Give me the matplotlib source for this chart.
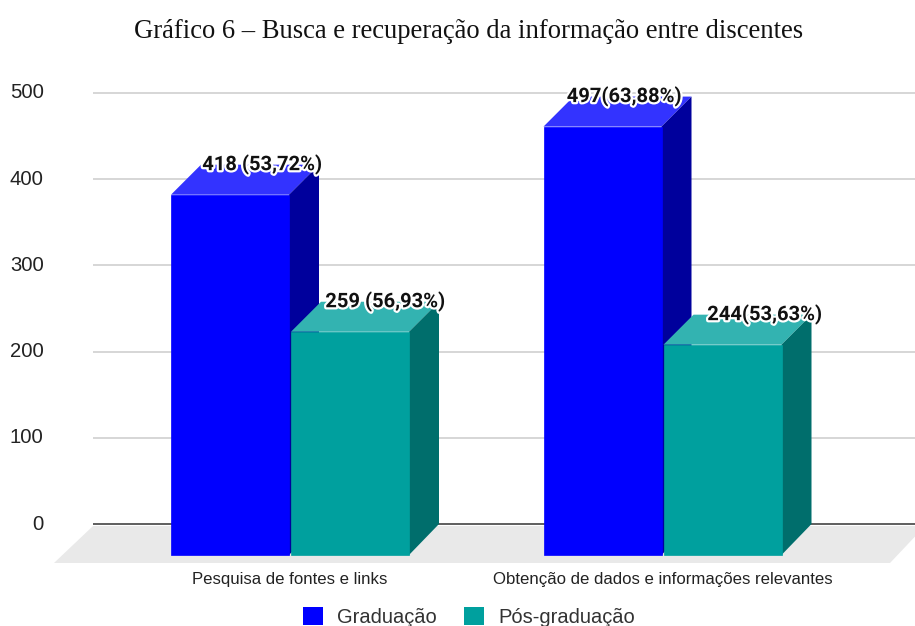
#!/usr/bin/env python3
import matplotlib
matplotlib.use("Agg")
import matplotlib.pyplot as plt
import matplotlib.patheffects as pe
from matplotlib.patches import Patch, Polygon

categories = ["Pesquisa de fontes e links", "Obtenção de dados e informações relevantes"]
series_names = ["Graduação", "Pós-graduação"]
graduacao = [418, 497]
pos_graduacao = [259, 244]
graduacao_labels = ["418 (53,72%)", "497(63,88%)"]
pos_labels = ["259 (56,93%)", "244(53,63%)"]
yticks = [0, 100, 200, 300, 400, 500]

W, H = 915, 626
AX_L, AX_R, AX_T, AX_B = 93, 915, 93, 563
Y0_PX = 524
PX_PER_VAL = (Y0_PX - AX_T) / 500
PX_PER_CAT = 372.5
CAT0_PX = 290

def dx(px): return px / PX_PER_CAT
def dy(px): return px / PX_PER_VAL

DEPTH = 30
COLORS = {
    0: dict(front="#0000ff", top="#3333ff", side="#00009c"),
    1: dict(front="#00a09e", top="#33b3b1", side="#006e6c"),
}

fig = plt.figure(figsize=(W / 100, H / 100), dpi=100)
ax = fig.add_axes([AX_L / W, 1 - AX_B / H, (AX_R - AX_L) / W, (AX_B - AX_T) / H])
ax.set_xlim(dx(AX_L - CAT0_PX), dx(AX_R - CAT0_PX))
ax.set_ylim(-dy(AX_B - Y0_PX), 500)
for sp in ax.spines.values():
    sp.set_visible(False)

x0, x1 = ax.get_xlim()
y0 = ax.get_ylim()[0]

# floor
floor = Polygon([(x0, -dy(2)), (x1 + dx(10), -dy(2)), (x1 - dx(25), y0), (x0 - dx(39), y0)],
                closed=True, fc="#e9e9e9", ec="none", zorder=1, clip_on=False)
ax.add_patch(floor)

# grid + baseline
ax.hlines([t for t in yticks if t > 0], x0, x1, color="#cccccc", lw=1.1, zorder=1, clip_on=False)
ax.hlines(0, x0, x1, color="#333333", lw=1.1, zorder=1.5)

def draw_bar(left, width, val, col, z):
    base = -dy(DEPTH + 1)
    ax.bar(left, val, width=width, bottom=base, align="edge", color=col["front"],
           edgecolor=col["front"], lw=0.5, zorder=z + 0.2)
    top = base + val
    ax.add_patch(Polygon([(left, top), (left + width, top),
                          (left + width + dx(DEPTH), top + dy(DEPTH)), (left + dx(DEPTH), top + dy(DEPTH))],
                         closed=True, fc=col["top"], ec="none", zorder=z, clip_on=False))
    ax.add_patch(Polygon([(left + width, base), (left + width, top),
                          (left + width + dx(DEPTH), top + dy(DEPTH)), (left + width + dx(DEPTH), 0)],
                         closed=True, fc=col["side"], ec="none", zorder=z, clip_on=False))

bw = dx(118)
gap = dx(1)
for i in range(len(categories)):
    draw_bar(i - gap - bw, bw, graduacao[i], COLORS[0], 2 + i)
    draw_bar(i + gap, bw, pos_graduacao[i], COLORS[1], 2.5 + i)

# data labels, nudged by hand like the original
label_nudge = [[2, 5], [-8.5, 12]]
halo = [pe.withStroke(linewidth=3.2, foreground="white")]
for i in range(len(categories)):
    for j, (vals, labs) in enumerate([(graduacao, graduacao_labels), (pos_graduacao, pos_labels)]):
        cx = i + (-gap - bw / 2 if j == 0 else gap + bw / 2) + dx(DEPTH)
        ax.annotate(labs[i], (cx, vals[i]), xytext=(label_nudge[i][j] * 0.72, -0.5), textcoords="offset points",
                    ha="center", va="center", family="Roboto", fontweight="bold", fontsize=14.5,
                    color="#111111", path_effects=halo, zorder=10, annotation_clip=False)

ax.set_yticks(yticks)
ax.set_xticks(range(len(categories)))
ax.set_xticklabels(categories, family="Liberation Sans", fontsize=12.1, color="#222222")
ax.tick_params(axis="x", length=0, pad=6.5)
ax.tick_params(axis="y", length=0, pad=35.5)
for t in ax.get_yticklabels():
    t.set_family("Liberation Sans")
    t.set_fontsize(14.6)
    t.set_color("#222222")
    t.set_verticalalignment("center")

fig.text(469 / W, 1 - 32 / H, "Gráfico 6 – Busca e recuperação da informação entre discentes",
         family="Liberation Serif", fontsize=19.2, color="#111111", ha="center", va="center")

handles = [Patch(fc=COLORS[0]["front"], ec="none"), Patch(fc=COLORS[1]["front"], ec="none")]
fig.legend(handles, series_names, loc="center", bbox_to_anchor=(469 / W, 1 - 617 / H), ncol=2, frameon=False,
           prop={"family": "Liberation Sans", "size": 14.5}, labelcolor="#333333",
           handlelength=1.0, handleheight=1.0, handletextpad=0.7, columnspacing=1.35,
           borderpad=0, borderaxespad=0)

fig.savefig("out.png", dpi=100)
